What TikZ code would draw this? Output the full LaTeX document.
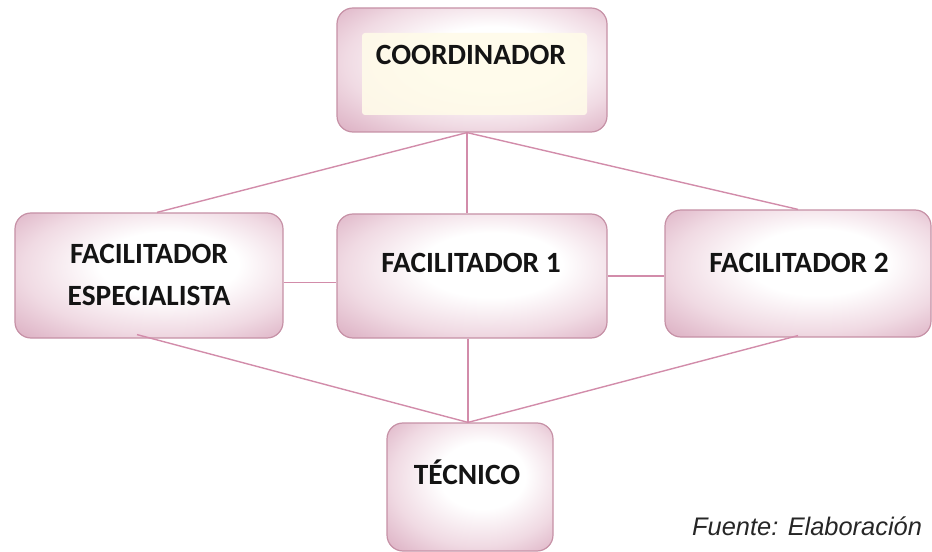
\documentclass[tikz,border=0pt]{standalone}
\usepackage{fontspec}
\setmainfont{Carlito}
\newfontfamily\arialfont{Liberation Sans}
\definecolor{boxpink}{RGB}{222,180,198}
\definecolor{midpink}{RGB}{240,218,227}
\definecolor{edgepink}{RGB}{198,145,166}
\definecolor{linepink}{RGB}{210,140,170}
\definecolor{ghostyellow}{RGB}{255,251,233}
\pgfdeclareradialshading{boxshade}{\pgfpoint{5bp}{6bp}}{color(0bp)=(white); color(13bp)=(white); color(26bp)=(midpink); color(36bp)=(boxpink); color(50bp)=(boxpink)}
\begin{document}
\begin{tikzpicture}[x=1bp,y=-1bp,
  box/.style={draw=edgepink, line width=1.2bp, rounded corners=16bp, shade, shading=boxshade, inner sep=0pt},
  lbl/.style={font=\bfseries\fontsize{29.5}{43}\selectfont, text=black!92, align=center, inner sep=0pt},
  link/.style={draw=linepink, line width=1.4bp}]
\useasboundingbox (0,0) rectangle (932,552);
\clip (0,0) rectangle (932,552);
% boxes
\node[box, minimum width=270bp, minimum height=124bp] (coord) at (472,70) {};
\fill[ghostyellow, opacity=0.9, rounded corners=3bp] (362,33) rectangle (587,115);
\node[box, minimum width=268bp, minimum height=125bp] (esp) at (149,275.5) {};
\node[box, minimum width=270bp, minimum height=124bp] (fac1) at (472,276) {};
\node[box, minimum width=266bp, minimum height=127bp] (fac2) at (798,273.5) {};
\node[box, minimum width=166bp, minimum height=128bp] (tec) at (470,487) {};
% labels
\node[lbl] (coordt) at (471,55) {COORDINADOR};
\node[lbl] (espt) at (149,275) {FACILITADOR\\ESPECIALISTA};
\node[lbl] (fac1t) at (471,263) {FACILITADOR 1};
\node[lbl] (fac2t) at (799,263) {FACILITADOR 2};
\node[lbl] (tect) at (467,472) {TÉCNICO};
% connectors
\coordinate (top) at ([xshift=-5bp]coord.south);
\coordinate (bot) at ([xshift=-2bp]tec.north);
\draw[link] (top) -- ([xshift=8bp]esp.north);
\draw[link] (top) -- (fac1.north -| top);
\draw[link] (top) -- (fac2.north);
\draw[link] ([yshift=-7bp]esp.east) -- ([yshift=-7bp]esp.east -| fac1.west);
\draw[link] (fac1.east) -- (fac1.east -| fac2.west);
\draw[link] ([xshift=-12bp,yshift=4bp]esp.south) -- (bot);
\draw[link] (fac1.south -| bot) -- (bot);
\draw[link] ([yshift=2bp]fac2.south) -- (bot);
% source note
\node[anchor=base west, inner sep=0pt, font=\arialfont\itshape\fontsize{25.5}{30}\selectfont, text=black!85] (src) at (692,535) {Fuente: Elaboración};
\end{tikzpicture}
\end{document}
